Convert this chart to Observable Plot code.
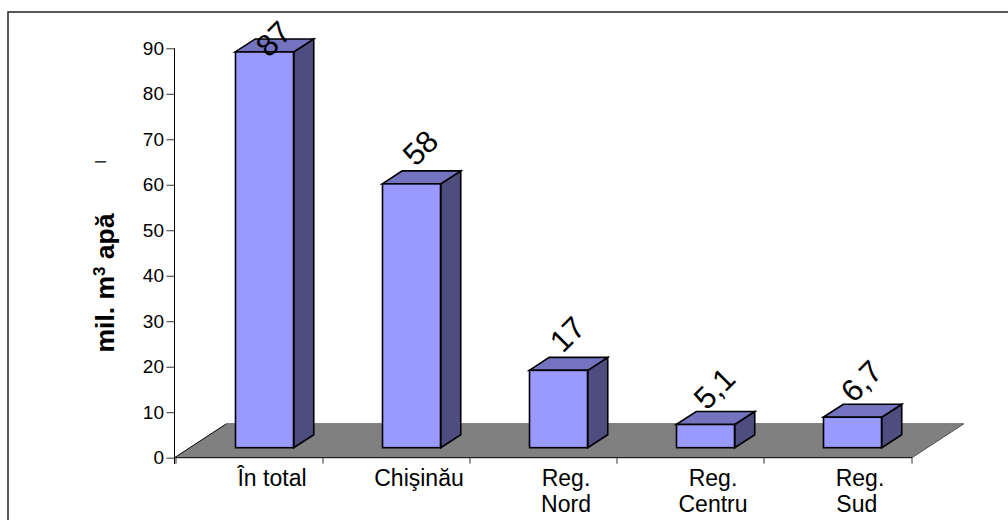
<!DOCTYPE html>
<html>
<head>
<meta charset="utf-8">
<script src="https://cdn.jsdelivr.net/npm/d3@7"></script>
<script src="https://cdn.jsdelivr.net/npm/@observablehq/plot@0.6"></script>
<style>
  html, body { margin: 0; background: #fff; }
  svg { display: block; }
</style>
</head>
<body>
<div id="chart"></div>
<script>
// Water volume per region, million cubic metres
const categories = ["În total", "Chişinău", "Reg.\nNord", "Reg.\nCentru", "Reg.\nSud\u00a0"];
const values = [87, 58, 17, 5.1, 6.7];
const valueLabels = ["87", "58", "17", "5,1", "6,7"];
const yTicks = [0, 10, 20, 30, 40, 50, 60, 70, 80, 90];

const rows = categories.map((category, i) => ({category, value: values[i], label: valueLabels[i]}));

// Pseudo-3D geometry, in pixels
const barShiftX = 15, barShiftY = -10;
const depthX = 20, depthY = -13;
const floorDepthX = 52, floorDepthY = -34;
const barWidth = 58.5;
const font = "Arial, 'Liberation Sans', sans-serif";

const newGroup = () => d3.select(document.createElementNS(d3.namespaces.svg, "g"));

function poly(parent, pts, fill, stroke, width) {
  parent.append("polygon")
    .attr("points", pts.map(p => p.join(",")).join(" "))
    .attr("fill", fill).attr("stroke", stroke).attr("stroke-width", width);
}

// Grey floor plane behind the bars, with tick marks on the band edges
function floor(index, {x, y}, values, {marginLeft, width, marginRight}) {
  const g = newGroup();
  const left = marginLeft, right = width - marginRight, y0 = y(0);
  poly(g, [[left, y0], [right, y0], [right + floorDepthX, y0 + floorDepthY], [left + floorDepthX, y0 + floorDepthY]], "#808080", "none", 0);
  const edge = (a, b, c, w) => g.append("line").attr("x1", a[0]).attr("y1", a[1]).attr("x2", b[0]).attr("y2", b[1]).attr("stroke", c).attr("stroke-width", w);
  edge([left + floorDepthX, y0 + floorDepthY], [right + floorDepthX, y0 + floorDepthY], "#6e6e6e", 1);
  edge([right, y0], [right + floorDepthX, y0 + floorDepthY], "#555", 1);
  edge([left, y0], [left + floorDepthX, y0 + floorDepthY], "#000", 1);
  edge([left, y0], [right, y0], "#000", 1);
  for (const c of categories) edge([x(c), y0], [x(c), y0 + 6], "#333", 1);
  edge([right, y0], [right, y0 + 6], "#333", 1);
  return g.node();
}

// Top and side faces of each bar, placed from the bar's value
function faces(index, {x, y}) {
  const g = newGroup();
  const step = x(categories[1]) - x(categories[0]);
  for (const d of rows) {
    const cx = x(d.category) + step / 2 + barShiftX;
    const l = cx - barWidth / 2, r = cx + barWidth / 2;
    const t = y(d.value) + barShiftY, b = y(0) + barShiftY;
    poly(g, [[r, t], [r + depthX, t + depthY], [r + depthX, b + depthY], [r, b]], "#4d4d80", "#000", 1.6);
    poly(g, [[l, t], [l + depthX, t + depthY], [r + depthX, t + depthY], [r, t]], "#7373bf", "#000", 1.6);
  }
  return g.node();
}

// Outer chart border
function border() {
  const g = newGroup();
  g.append("rect").attr("x", 8).attr("y", 12).attr("width", 1100).attr("height", 600)
    .attr("fill", "none").attr("stroke", "#222").attr("stroke-width", 1.5);
  return g.node();
}

const isClamped = d => d.value > 80;

const chart = Plot.plot({
  width: 1008,
  height: 520,
  marginLeft: 174.5,
  marginRight: 96,
  marginTop: 48.3,
  marginBottom: 62.3,
  style: {fontFamily: font, background: "#fff", color: "#000"},
  x: {domain: categories, padding: 0, label: null},
  y: {domain: [0, 90], label: null},
  marks: [
    border,
    floor,
    Plot.axisY({ticks: yTicks, tickSize: 8, tickPadding: 3, fontSize: 19, stroke: "#333", label: null, tickFormat: d => String(d)}),
    Plot.axisX({tickSize: 0, tickPadding: 9, fontSize: 23, dx: 22, label: null, lineHeight: 1.15}),
    faces,
    Plot.barY(rows, {
      x: "category", y1: 0, y2: "value",
      dx: barShiftX, dy: barShiftY,
      insetLeft: 44.5, insetRight: 44.5,
      fill: "#9999ff", stroke: "#000", strokeWidth: 1.6
    }),
    Plot.text(rows.filter(d => !isClamped(d)), {
      x: "category", y: "value", text: "label",
      dx: barShiftX + 9, dy: -46, rotate: -45, fontSize: 31, fill: "#000"
    }),
    Plot.text(rows.filter(isClamped), {
      x: "category", y: "value", text: "label",
      dx: barShiftX + 9, dy: -23, rotate: -45, fontSize: 31, fill: "#000"
    })
  ]
});

// Vertical axis line, rotated axis title with a superscript, and the small dash above it
const svg = d3.select(chart);
svg.append("line")
  .attr("x1", 174.5).attr("x2", 174.5).attr("y1", 48.3).attr("y2", 464)
  .attr("stroke", "#000");
const title = svg.append("text")
  .attr("transform", "translate(114,283) rotate(-90)")
  .attr("text-anchor", "middle")
  .attr("font-family", font).attr("font-weight", "bold").attr("font-size", 26.5).attr("fill", "#000");
title.append("tspan").text("mil. m");
title.append("tspan").attr("font-size", 17).attr("dy", -9).text("3");
title.append("tspan").attr("dy", 9).text(" apă");
svg.append("text")
  .attr("transform", "translate(106,162) rotate(-90)")
  .attr("text-anchor", "middle")
  .attr("font-family", font).attr("font-size", 14).attr("fill", "#000").text("l");

document.getElementById("chart").append(chart);
</script>
</body>
</html>
